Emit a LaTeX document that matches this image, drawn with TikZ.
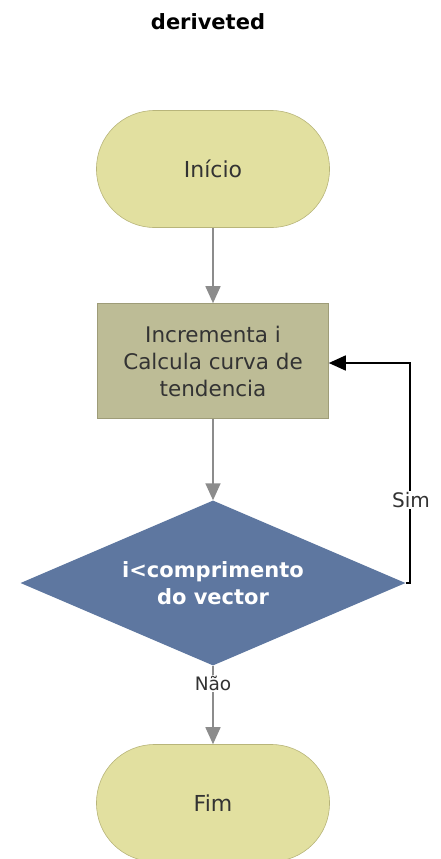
\documentclass[tikz,border=0pt]{standalone}
\usepackage{fontspec}
\setmainfont{DejaVu Sans}
\usetikzlibrary{shapes.geometric,arrows.meta}
\definecolor{khaki}{HTML}{E2E0A0}
\definecolor{khakiline}{HTML}{B8B57A}
\definecolor{olive}{HTML}{BDBC96}
\definecolor{oliveline}{HTML}{9E9C78}
\definecolor{steel}{HTML}{5E77A0}
\definecolor{txt}{HTML}{333333}
\definecolor{conn}{HTML}{8C8C8C}
\tikzset{
  terminal/.style={rectangle, rounded corners=58pt, minimum width=233pt, minimum height=117pt, fill=khaki, draw=khakiline, line width=0.6pt, text=txt, font=\fontsize{22}{26}\selectfont, inner sep=0pt},
  procbox/.style={rectangle, minimum width=231pt, minimum height=115pt, fill=olive, draw=oliveline, line width=0.6pt, text=txt, font=\fontsize{21.5}{27}\selectfont, align=center, inner sep=0pt},
  decision/.style={diamond, aspect=2.33, minimum width=385pt, minimum height=165pt, fill=steel, text=white, font=\bfseries\fontsize{21}{27}\selectfont, align=center, inner sep=0pt},
  flow/.style={draw=conn, line width=1.6pt, -{Triangle[length=17pt,width=15pt]}},
  loop/.style={draw=black, line width=1.6pt, -{Triangle[length=17pt,width=15pt]}},
  lbl/.style={fill=white, text=txt, font=\fontsize{20}{24}\selectfont, inner sep=1pt}
}
\begin{document}
\begin{tikzpicture}[x=1pt,y=-1pt]
\useasboundingbox (0,0) rectangle (440,859);
\node[font=\bfseries\fontsize{21}{24}\selectfont] (title) at (208,22) {deriveted};
\node[terminal] (inicio) at (213,169) {Início};
\node[procbox] (proc) at (213,361) {Incrementa i\\Calcula curva de\\tendencia};
\node[decision] (dec) at (213,583) {i<comprimento\\do vector};
\node[terminal] (fim) at (213,803) {Fim};
\draw[flow] (inicio) -- (proc);
\draw[flow] (proc) -- (dec);
\draw[flow] (dec.south) -- (fim.north) node[lbl, font=\fontsize{18.5}{22}\selectfont, pos=0.23] {Não};
\coordinate (cr) at (410,583);
\coordinate (ct) at (410,363);
\draw[loop] (dec.east) -- (cr) -- (ct) -- (proc.east |- ct);
\node[lbl] (sim) at (411,500) {Sim};
\end{tikzpicture}
\end{document}
